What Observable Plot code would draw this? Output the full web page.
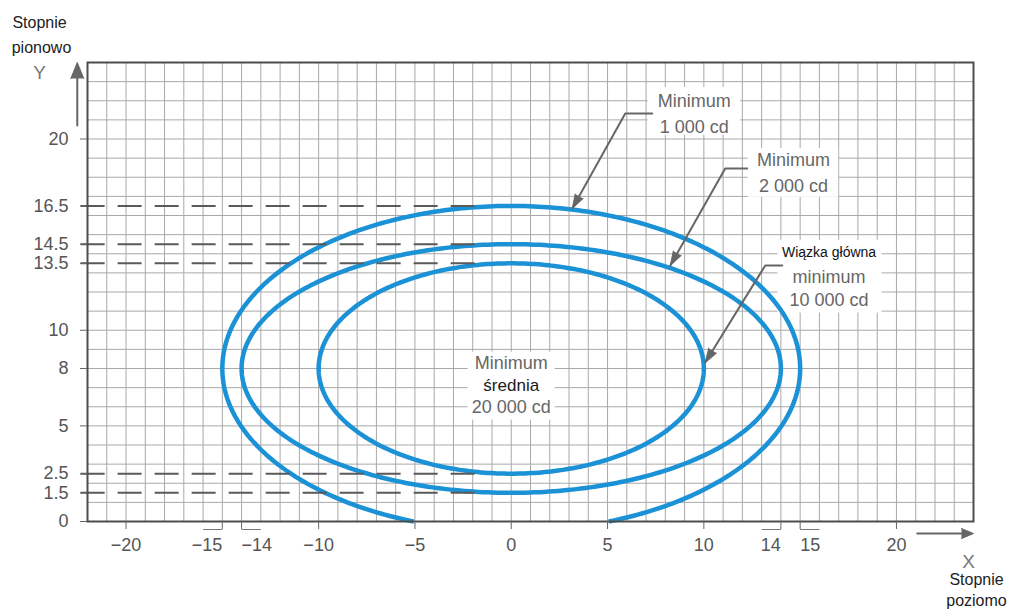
<!DOCTYPE html>
<html><head><meta charset="utf-8">
<script src="https://cdn.jsdelivr.net/npm/d3@7"></script>
<script src="https://cdn.jsdelivr.net/npm/@observablehq/plot@0.6"></script>
<style>
body{margin:0;background:#fff;}
#chart{position:absolute;left:0;top:0;}
</style>
</head><body><div id="chart"></div>
<script>
// ---- data ----
const xTicksPlain = [-20, -10, -5, 0, 5, 10, 20];
const xTicksLeftLabel = [-15, 14];   // label sits left of its bracket
const xTicksRightLabel = [-14, 15];  // label sits right of its bracket
const yTicks = [0, 1.5, 2.5, 5, 8, 10, 13.5, 14.5, 16.5, 20];
const dashedLevels = [16.5, 14.5, 13.5, 2.5, 1.5];

const contourNames = ["10 000 cd", "2 000 cd", "1 000 cd"];
const contourHalfWidth = [10, 14, 15];
const contourTop = [13.5, 14.5, 16.5];
const contourBottom = [2.5, 1.5, -0.5];

const labelText = ["Minimum", "1 000 cd", "Minimum", "2 000 cd", "Wiązka główna", "minimum", "10 000 cd", "Minimum", "średnia", "20 000 cd"];
const labelKind = ["note", "note", "note", "note", "small", "note", "note", "note", "strong", "note"];
const labelX = [9.5, 9.5, 14.65, 14.65, 16.5, 16.5, 16.5, 0, 0, 0];
const labelY = [22.0, 20.6, 18.9, 17.55, 14.05, 12.75, 11.55, 8.25, 7.1, 5.95];

const boxX1 = [7.1, 12.3, 13.85, -2.24];
const boxX2 = [11.9, 17.0, 19.25, 2.28];
const boxY1 = [20.2, 16.95, 10.9, 5.3];
const boxY2 = [22.7, 19.5, 14.7, 8.85];

const leaderId = [1, 1, 1, 2, 2, 2, 3, 3, 3];
const leaderX = [7.32, 5.92, 3.17, 12.25, 11.11, 8.26, 14.07, 13.19, 10.07];
const leaderY = [21.33, 21.33, 16.37, 18.46, 18.46, 13.39, 13.39, 13.39, 8.31];

const dashFrom = -22.33, dashTo = -1.82;

// ---- layout ----
const W = 1015, H = 610, mL = 87, mR = 42, mT = 62, mB = 89;
const xDom = [-22, 24], yDom = [0, 24];
const kx = (W - mL - mR) / (xDom[1] - xDom[0]);
const ky = (H - mT - mB) / (yDom[1] - yDom[0]);
const fmt = d3.format("~g");
const blue = "#1b91d6", ink = "#555", grid = "#a9a9a9";

// ellipse contours (from centre / half-axes read above), clipped at y = 0
const contourPts = contourNames.flatMap((name, i) => {
  const rx = contourHalfWidth[i];
  const cy = (contourTop[i] + contourBottom[i]) / 2;
  const ry = (contourTop[i] - contourBottom[i]) / 2;
  const t0 = contourBottom[i] < 0 ? Math.asin(-cy / ry) : 0;
  const t1 = contourBottom[i] < 0 ? Math.PI - t0 : 2 * Math.PI;
  return d3.range(0, 361).map(k => {
    const t = t0 + (t1 - t0) * k / 360;
    return {name, x: rx * Math.cos(t), y: cy + ry * Math.sin(t)};
  });
});

const labels = labelText.map((t, i) => ({t, kind: labelKind[i], x: labelX[i], y: labelY[i]}));
const boxes = boxX1.map((d, i) => ({x1: boxX1[i], x2: boxX2[i], y1: boxY1[i], y2: boxY2[i]}));
const leaders = leaderX.map((x, i) => ({id: leaderId[i], x, y: leaderY[i]}));
const tips = d3.groups(leaders, d => d.id).map(([id, pts]) => {
  const a = pts[pts.length - 2], b = pts[pts.length - 1];
  const dxp = (b.x - a.x) * kx, dyp = -(b.y - a.y) * ky;
  return {x: b.x, y: b.y, rotate: Math.atan2(dxp, -dyp) * 180 / Math.PI};
});

// axis arrows (decoration outside the frame)
const yArrow = [{x: -22.53, y: 20.7}, {x: -22.53, y: 23.2}];
const yArrowTip = [{x: -22.53, y: 24.0, rotate: 0}];
const xArrow = [{x: 21.08, y: -0.63}, {x: 23.6, y: -0.63}];
const xArrowTip = [{x: 24.0, y: -0.63, rotate: 90}];

const corner = (txt, anchor, dx, dy, size, fill) =>
  Plot.text([txt], {frameAnchor: anchor, text: d => d, lineAnchor: "middle", textAnchor: "middle", dx, dy, fontSize: size, fill});

const chart = Plot.plot({
  width: W, height: H,
  marginLeft: mL, marginRight: mR, marginTop: mT, marginBottom: mB,
  x: {domain: xDom, label: null},
  y: {domain: yDom, label: null},
  style: {fontFamily: "'Liberation Sans', Arial, sans-serif", background: "#fff", overflow: "visible"},
  marks: [
    Plot.gridX(d3.range(xDom[0], xDom[1] + 1), {stroke: grid, strokeOpacity: 1, strokeWidth: 1}),
    Plot.gridY(d3.range(yDom[0], yDom[1] + 1), {stroke: grid, strokeOpacity: 1, strokeWidth: 1}),
    Plot.rect(boxes, {x1: "x1", x2: "x2", y1: "y1", y2: "y2", fill: "#fff"}),
    Plot.line(contourPts, {x: "x", y: "y", z: "name", stroke: blue, strokeWidth: 4.5, strokeLinecap: "butt"}),
    Plot.ruleY(dashedLevels, {x1: dashFrom, x2: dashTo, stroke: "#5a5a5a", strokeWidth: 2, strokeDasharray: "24,13"}),
    Plot.frame({stroke: "#4d4d4d", strokeWidth: 2}),
    // x axis ticks & labels
    Plot.axisX([...xTicksPlain, ...xTicksLeftLabel, ...xTicksRightLabel], {tickSize: 8, tickFormat: () => "", stroke: "#666", label: null}),
    Plot.text(xTicksPlain, {x: d => d, frameAnchor: "bottom", text: fmt, lineAnchor: "middle", textAnchor: "middle", dy: 24, fontSize: 18, fill: ink}),
    Plot.text(xTicksLeftLabel, {x: d => d, frameAnchor: "bottom", text: fmt, lineAnchor: "middle", textAnchor: "end", dy: 24, fontSize: 18, fill: ink}),
    Plot.text(xTicksRightLabel, {x: d => d, frameAnchor: "bottom", text: fmt, lineAnchor: "middle", textAnchor: "start", dy: 24, fontSize: 18, fill: ink}),
    Plot.link(xTicksLeftLabel, {x1: d => d - 1, x2: d => d, y1: 0, y2: 0, dy: 8, stroke: "#777", strokeWidth: 1}),
    Plot.link(xTicksRightLabel, {x1: d => d, x2: d => d + 1, y1: 0, y2: 0, dy: 8, stroke: "#777", strokeWidth: 1}),
    // y axis
    Plot.axisY(yTicks, {tickSize: 7, tickPadding: 12, tickFormat: fmt, fontSize: 18, fill: ink, stroke: "#666", label: null}),
    // axis arrows
    Plot.line(yArrow, {x: "x", y: "y", stroke: "#666", strokeWidth: 2}),
    Plot.vector(yArrowTip, {x: "x", y: "y", rotate: "rotate", shape: "spike", anchor: "end", length: 16, r: 6.5, fill: "#666", stroke: "#666", strokeWidth: 1}),
    Plot.line(xArrow, {x: "x", y: "y", stroke: "#666", strokeWidth: 2}),
    Plot.vector(xArrowTip, {x: "x", y: "y", rotate: "rotate", shape: "spike", anchor: "end", length: 12, r: 5, fill: "#666", stroke: "#666", strokeWidth: 1}),
    // leader lines with arrowheads
    Plot.line(leaders, {x: "x", y: "y", z: "id", stroke: "#666", strokeWidth: 2}),
    Plot.vector(tips, {x: "x", y: "y", rotate: "rotate", shape: "spike", anchor: "end", length: 14, r: 4.5, fill: "#666", stroke: "#666", strokeWidth: 1}),
    // annotation texts
    Plot.text(labels.filter(d => d.kind === "note"), {x: "x", y: "y", text: "t", fontSize: 18, fill: "#666"}),
    Plot.text(labels.filter(d => d.kind === "strong"), {x: "x", y: "y", text: "t", fontSize: 17, fill: "#1a1a1a"}),
    Plot.text(labels.filter(d => d.kind === "small"), {x: "x", y: "y", text: "t", fontSize: 14, fill: "#111"}),
    // axis titles
    corner("Stopnie", "top-left", -48, -40, 16, "#222"),
    corner("pionowo", "top-left", -46, -15, 16, "#222"),
    corner("Y", "top-left", -48, 10, 19, "#777"),
    corner("X", "bottom-right", -5, 40, 19, "#777"),
    corner("Stopnie", "bottom-right", 3, 58, 16, "#222"),
    corner("poziomo", "bottom-right", 3, 79, 16, "#222")
  ]
});
document.getElementById("chart").appendChild(chart);
</script>
</body></html>
